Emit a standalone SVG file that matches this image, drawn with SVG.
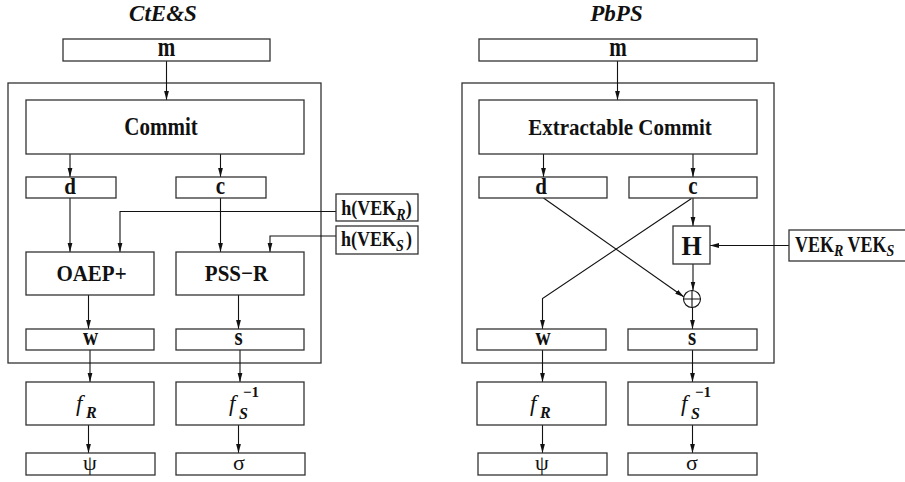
<svg xmlns="http://www.w3.org/2000/svg" width="905" height="482" viewBox="0 0 905 482">
<defs>
<marker id="ah" markerUnits="userSpaceOnUse" markerWidth="9" markerHeight="6" refX="9" refY="3" orient="auto">
<path d="M0,0.6 L9,3 L0,5.4 z" fill="#111"/>
</marker>
<style>
rect.b{fill:#fff;stroke:#333;stroke-width:1.3}
rect.o{fill:none;stroke:#333;stroke-width:1.3}
.t{font-family:"Liberation Serif","Times New Roman",serif;font-weight:bold;font-size:21px;text-anchor:middle;fill:#111}
.ti{font-family:"Liberation Serif","Times New Roman",serif;font-weight:bold;font-style:italic;font-size:23px;text-anchor:middle;fill:#111}
.g{font-family:"Liberation Serif","Times New Roman",serif;font-size:22px;text-anchor:middle;fill:#111}
.f{font-family:"Liberation Serif","Times New Roman",serif;font-style:italic;font-size:23px;fill:#111}
.sub{font-family:"Liberation Serif","Times New Roman",serif;font-style:italic;font-weight:bold;font-size:16px;fill:#111}
.sup{font-family:"Liberation Serif","Times New Roman",serif;font-weight:bold;font-size:15px;fill:#111}
.sm{font-size:14px;font-style:italic}
#conn path{fill:none;stroke:#111;stroke-width:1.1}
#conn path.a{marker-end:url(#ah)}
</style>
</defs>
<g id="titles">
<text class="ti" x="163" y="21">CtE&amp;S</text>
<text class="ti" x="616.5" y="21">PbPS</text>
</g>
<g id="frame-left"><rect class="o" x="8" y="83" width="313" height="280"/></g>
<g id="frame-right"><rect class="o" x="462" y="83" width="312" height="280"/></g>
<g id="conn">
<path class="a" d="M166.5,61 V100"/>
<path class="a" d="M70,154 V177"/>
<path class="a" d="M220.5,154 V177"/>
<path class="a" d="M70,198 V252"/>
<path class="a" d="M220.5,198 V252"/>
<path class="a" d="M336,211.5 H120 V252"/>
<path class="a" d="M336,236 H270 V252"/>
<path class="a" d="M88.5,295 V329"/>
<path class="a" d="M238.5,295 V329"/>
<path class="a" d="M90,350 V382"/>
<path class="a" d="M240,350 V382"/>
<path class="a" d="M88.5,425 V453"/>
<path class="a" d="M238.5,425 V453"/>
<path class="a" d="M617.5,61 V100"/>
<path class="a" d="M543.5,154 V177"/>
<path class="a" d="M693,154 V177"/>
<path class="a" d="M693,198 V226"/>
<path class="a" d="M789,245.5 H710"/>
<path class="a" d="M693,264 V290.5"/>
<path class="a" d="M543.5,198 L684,297"/>
<path class="a" d="M691.5,198.5 L542.5,298.5 V329"/>
<path class="a" d="M692.5,307.5 V329"/>
<path class="a" d="M542.5,350 V382"/>
<path class="a" d="M692.5,350 V382"/>
<path class="a" d="M542.5,425 V453"/>
<path class="a" d="M692.5,425 V453"/>
</g>
<g id="m-left"><rect class="b" x="63" y="39" width="207" height="22"/><text class="t" transform="translate(166.5,56) scale(1,1.3)">m</text></g>
<g id="commit-left"><rect class="b" x="26" y="100" width="278" height="54"/><text class="t" transform="translate(161,135) scale(1,1.15)">Commit</text></g>
<g id="d-left"><rect class="b" x="26" y="177" width="90" height="21"/><text class="t" transform="translate(70,194) scale(1,1.1)">d</text></g>
<g id="c-left"><rect class="b" x="176" y="177" width="90" height="21"/><text class="t" transform="translate(220.5,194) scale(1,1.15)">c</text></g>
<g id="hvekr"><rect class="b" x="336" y="194" width="82" height="27"/><text class="t" style="font-size:18px" transform="translate(376.5,215) scale(1,1.2)">h(VEK<tspan class="sm" dy="4">R</tspan><tspan dy="-4">)</tspan></text></g>
<g id="hveks"><rect class="b" x="336" y="226" width="82" height="28"/><text class="t" style="font-size:18px" transform="translate(376.5,246) scale(1,1.2)">h(VEK<tspan class="sm" dy="4">S</tspan><tspan dy="-4" dx="2">)</tspan></text></g>
<g id="oaep"><rect class="b" x="26" y="252" width="128" height="43"/><text class="t" transform="translate(91.5,281) scale(1,1.1)">OAEP+</text></g>
<g id="pssr"><rect class="b" x="176" y="252" width="128" height="43"/><text class="t" transform="translate(236.5,281) scale(1,1.1)">PSS−R</text></g>
<g id="w-left"><rect class="b" x="26" y="329" width="128" height="21"/><text class="t" transform="translate(90.5,345) scale(1,1.15)">w</text></g>
<g id="s-left"><rect class="b" x="176" y="329" width="128" height="21"/><text class="t" transform="translate(238.5,345) scale(1,1.15)">s</text></g>
<g id="fr-left"><rect class="b" x="26" y="382" width="128" height="43"/><text class="f" x="76" y="411">f</text><text class="sub" x="86" y="418">R</text></g>
<g id="fs-left"><rect class="b" x="176" y="382" width="128" height="43"/><text class="f" x="229" y="411">f</text><text class="sub" x="239" y="419">S</text><text class="sup" x="243" y="397">−1</text></g>
<g id="psi-left"><rect class="b" x="26" y="453" width="129" height="22"/><text class="g" x="90" y="470">ψ</text></g>
<g id="sigma-left"><rect class="b" x="176" y="453" width="129" height="22"/><text class="g" x="239" y="470">σ</text></g>
<g id="m-right"><rect class="b" x="479" y="39" width="278" height="22"/><text class="t" transform="translate(618,56) scale(1,1.3)">m</text></g>
<g id="ecommit"><rect class="b" x="479" y="100" width="278" height="54"/><text class="t" transform="translate(620,135) scale(1,1.1)">Extractable Commit</text></g>
<g id="d-right"><rect class="b" x="479" y="177" width="128" height="21"/><text class="t" transform="translate(541,194) scale(1,1.1)">d</text></g>
<g id="c-right"><rect class="b" x="629" y="177" width="128" height="21"/><text class="t" transform="translate(693,194) scale(1,1.15)">c</text></g>
<g id="H"><rect class="b" x="673" y="226" width="37" height="38"/><text class="t" style="font-size:26px" transform="translate(691.5,255) scale(1,1.05)">H</text></g>
<g id="vek"><rect class="b" x="789" y="230" width="125" height="31"/><text class="t" style="text-anchor:start;font-size:18px" transform="translate(795,252) scale(1,1.25)">VEK<tspan class="sm" dy="3">R</tspan><tspan dy="-3"> VEK</tspan><tspan class="sm" dy="3">S</tspan></text></g>
<g id="xor"><circle cx="692" cy="299" r="8.5" fill="#fff" stroke="#111" stroke-width="1.1"/><path d="M683.5,299 H700.5 M692,290.5 V307.5" stroke="#111" stroke-width="1.1"/></g>
<g id="w-right"><rect class="b" x="477" y="329" width="129" height="21"/><text class="t" transform="translate(543,345) scale(1,1.15)">w</text></g>
<g id="s-right"><rect class="b" x="628" y="329" width="129" height="21"/><text class="t" transform="translate(692,345) scale(1,1.15)">s</text></g>
<g id="fr-right"><rect class="b" x="477" y="382" width="129" height="43"/><text class="f" x="530" y="411">f</text><text class="sub" x="540" y="418">R</text></g>
<g id="fs-right"><rect class="b" x="628" y="382" width="129" height="43"/><text class="f" x="681" y="411">f</text><text class="sub" x="691" y="419">S</text><text class="sup" x="695" y="397">−1</text></g>
<g id="psi-right"><rect class="b" x="478" y="453" width="129" height="22"/><text class="g" x="542" y="470">ψ</text></g>
<g id="sigma-right"><rect class="b" x="628" y="453" width="129" height="22"/><text class="g" x="692" y="470">σ</text></g>
</svg>
